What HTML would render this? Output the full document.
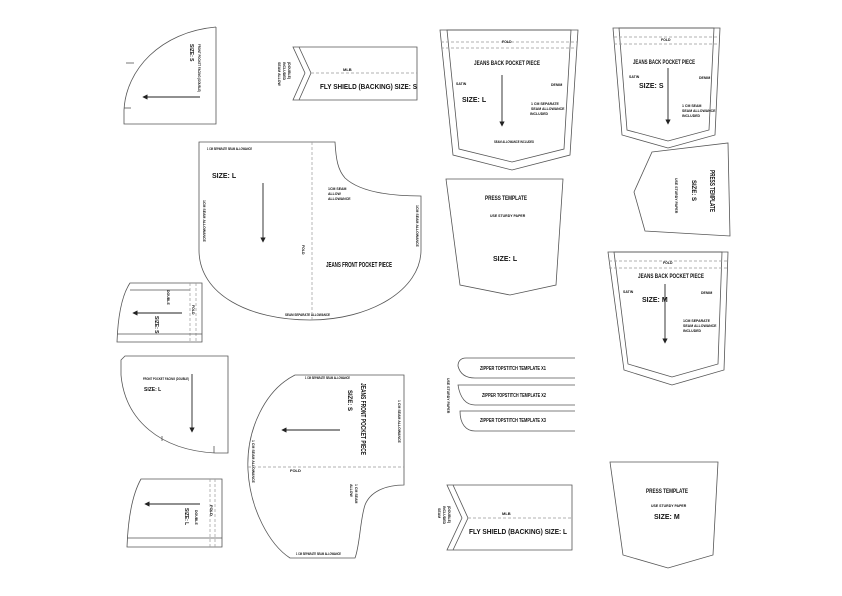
<!DOCTYPE html>
<html><head><meta charset="utf-8"><style>
html,body{margin:0;padding:0;background:#fff;}
svg{display:block}
text{font-family:"Liberation Sans Narrow","Liberation Sans",sans-serif;font-weight:bold;fill:#111}
.p{fill:none;stroke:#555;stroke-width:0.8}
.d{fill:none;stroke:#999;stroke-width:0.7;stroke-dasharray:3,2}
.a{stroke:#222;stroke-width:0.9;fill:none}
</style></head><body>
<svg width="842" height="596" viewBox="0 0 842 596" xmlns="http://www.w3.org/2000/svg">
<defs><marker id="m" markerWidth="6" markerHeight="6" refX="3" refY="3" orient="auto"><path d="M0,0 L6,3 L0,6 Z" fill="#222"/></marker></defs>

<!-- 1 top-left quarter -->
<path class="p" d="M216,27 L216,124 L124,124 L124,110 C126,70 160,32 216,27"/>
<line class="p" x1="126" y1="63" x2="134" y2="63"/><line class="p" x1="124" y1="108" x2="131" y2="108"/>
<line class="a" x1="200" y1="97" x2="145" y2="97" marker-end="url(#m)"/>
<text font-size="5" transform="translate(190,44) rotate(90)">SIZE: S</text>
<text font-size="3.5" transform="translate(198,44) rotate(90)" textLength="48" lengthAdjust="spacingAndGlyphs">FRONT POCKET FACING (DOUBLE)</text>

<!-- 2 flyshield S -->
<path class="p" d="M293,47 L417,47 L417,100 L293,100 L305,73 Z"/>
<path class="p" d="M299,47 L311,73 L299,100"/>
<line class="d" x1="311" y1="73" x2="417" y2="73"/>
<text font-size="4" x="343" y="71">MLB</text>
<text font-size="7.5" x="320" y="89" textLength="97" lengthAdjust="spacingAndGlyphs">FLY SHIELD (BACKING) SIZE: S</text>
<text font-size="3.5" transform="translate(278,62) rotate(90)">SEAM ALLOW</text>
<text font-size="3.5" transform="translate(283,62) rotate(90)">INCLUDED</text>
<text font-size="3.5" transform="translate(288,62) rotate(90)">(DOUBLE)</text>

<!-- 3 front pocket L -->
<path class="p" d="M199,142 L335,142 C336,160 338,170 345,178 C360,192 390,196 421,196 L421,250 C421,290 370,320 310,320 C250,320 199,295 199,250 Z"/>
<line class="d" x1="312" y1="142" x2="312" y2="320"/>
<line class="a" x1="263" y1="183" x2="263" y2="240" marker-end="url(#m)"/>
<text font-size="4" x="207" y="150" textLength="45" lengthAdjust="spacingAndGlyphs">1 CM SEPARATE SEAM ALLOWANCE</text>
<text font-size="7" x="212" y="178">SIZE: L</text>
<text font-size="3.5" x="328" y="190">1CM SEAM</text>
<text font-size="3.5" x="328" y="195">ALLOW</text>
<text font-size="3.5" x="328" y="200">ALLOWANCE</text>
<text font-size="3.5" transform="translate(302,245) rotate(90)">FOLD</text>
<text font-size="7" x="326" y="267" textLength="66" lengthAdjust="spacingAndGlyphs">JEANS FRONT POCKET PIECE</text>
<text font-size="3.5" x="285" y="316" textLength="45" lengthAdjust="spacingAndGlyphs">SEAM SEPARATE ALLOWANCE</text>
<text font-size="3.5" transform="translate(203,200) rotate(90)">1CM SEAM ALLOWANCE</text>
<text font-size="3.5" transform="translate(416,205) rotate(90)">1CM SEAM ALLOWANCE</text>

<!-- 4 small pocket facing -->
<path class="p" d="M130,283 L202,283 L202,342 L117,342 C118,315 122,295 130,283 Z"/>
<line class="p" x1="130" y1="290" x2="190" y2="290"/>
<line class="d" x1="190" y1="283" x2="190" y2="342"/><line class="d" x1="196" y1="283" x2="196" y2="342"/>
<line class="p" x1="117" y1="334" x2="202" y2="334"/>
<line class="a" x1="182" y1="313" x2="135" y2="313" marker-end="url(#m)"/>
<text font-size="5" transform="translate(155,316) rotate(90)">SIZE: S</text>
<text font-size="3.5" transform="translate(167,290) rotate(90)">DOUBLE</text>
<text font-size="3.5" transform="translate(192,305) rotate(90)">FOLD</text>

<!-- 5 front pocket facing L -->
<path class="p" d="M125,356 L228,356 L228,453 L215,453 C160,450 125,420 121,375 L121,360 Z"/>
<line class="p" x1="162" y1="436" x2="162" y2="441"/><line class="p" x1="214" y1="446" x2="214" y2="453"/>
<line class="a" x1="192" y1="374" x2="192" y2="430" marker-end="url(#m)"/>
<text font-size="3.5" x="143" y="380" textLength="46" lengthAdjust="spacingAndGlyphs">FRONT POCKET FACING (DOUBLE)</text>
<text font-size="5" x="144" y="391">SIZE: L</text>

<!-- 6 bottom-left small -->
<path class="p" d="M141,479 L222,479 L222,547 L127,547 C128,520 132,495 141,479 Z"/>
<line class="p" x1="127" y1="538" x2="222" y2="538"/>
<line class="d" x1="210" y1="479" x2="210" y2="547"/><line class="d" x1="215" y1="479" x2="215" y2="547"/>
<line class="a" x1="200" y1="504" x2="147" y2="504" marker-end="url(#m)"/>
<text font-size="5" transform="translate(185,508) rotate(90)">SIZE: L</text>
<text font-size="3.5" transform="translate(195,510) rotate(90)">DOUBLE</text>
<text font-size="4" transform="translate(210,505) rotate(90)">FOLD</text>

<!-- 7 front pocket S -->
<path class="p" d="M295,375 L404,375 L404,485 C385,485 370,492 365,505 C360,520 360,545 355,558 L290,558 C270,545 250,510 248,470 C246,430 265,390 295,375 Z"/>
<line class="d" x1="248" y1="467" x2="404" y2="467"/>
<line class="a" x1="340" y1="430" x2="284" y2="430" marker-end="url(#m)"/>
<text font-size="3.5" x="305" y="379" textLength="45" lengthAdjust="spacingAndGlyphs">1 CM SEPARATE SEAM ALLOWANCE</text>
<text font-size="7" transform="translate(361,383) rotate(90)" textLength="72" lengthAdjust="spacingAndGlyphs">JEANS FRONT POCKET PIECE</text>
<text font-size="6" transform="translate(348,390) rotate(90)">SIZE: S</text>
<text font-size="3.5" transform="translate(398,400) rotate(90)">1 CM SEAM ALLOWANCE</text>
<text font-size="3.5" transform="translate(252,440) rotate(90)">1 CM SEAM ALLOWANCE</text>
<text font-size="4" x="290" y="472">FOLD</text>
<text font-size="3.5" transform="translate(355,484) rotate(90)">1 CM SEAM</text>
<text font-size="3.5" transform="translate(350,484) rotate(90)">ALLOW</text>
<text font-size="3.5" x="296" y="555" textLength="45" lengthAdjust="spacingAndGlyphs">1 CM SEPARATE SEAM ALLOWANCE</text>

<!-- 8 back pocket L -->
<path class="p" d="M440,30 L578,30 L570,155 L512,170 L453,155 Z"/>
<path class="p" d="M447,30 L571,30 L564,149 L512,162 L459,149 Z"/>
<line class="d" x1="441" y1="42" x2="577" y2="42"/><line class="d" x1="441" y1="48" x2="577" y2="48"/>
<text font-size="3.5" x="502" y="43">FOLD</text>
<text font-size="6.5" x="474" y="65" textLength="66" lengthAdjust="spacingAndGlyphs">JEANS BACK POCKET PIECE</text>
<text font-size="3.5" x="456" y="85">SATIN</text><text font-size="3.5" x="551" y="86">DENIM</text>
<text font-size="7" x="462" y="102">SIZE: L</text>
<line class="a" x1="502" y1="75" x2="502" y2="124" marker-end="url(#m)"/>
<text font-size="3.5" x="531" y="105">1 CM SEPARATE</text>
<text font-size="3.5" x="531" y="110">SEAM ALLOWANCE</text>
<text font-size="3.5" x="530" y="115">INCLUDED</text>
<text font-size="3.5" x="494" y="143" textLength="40" lengthAdjust="spacingAndGlyphs">SEAM ALLOWANCE INCLUDED</text>

<!-- 9 press template L -->
<path class="p" d="M446,179 L563,179 L556,285 L510,295 L460,285 Z"/>
<text font-size="6.5" x="485" y="200" textLength="42" lengthAdjust="spacingAndGlyphs">PRESS TEMPLATE</text>
<text font-size="3.5" x="490" y="217">USE STURDY PAPER</text>
<text font-size="7" x="493" y="261">SIZE: L</text>

<!-- 10 back pocket S -->
<path class="p" d="M613,28 L720,28 L715,135 L668,148 L622,135 Z"/>
<path class="p" d="M619,28 L714,28 L709,130 L668,141 L627,130 Z"/>
<line class="d" x1="614" y1="37" x2="719" y2="37"/><line class="d" x1="614" y1="44" x2="719" y2="44"/>
<text font-size="3.5" x="661" y="41">FOLD</text>
<text font-size="6.5" x="633" y="64" textLength="62" lengthAdjust="spacingAndGlyphs">JEANS BACK POCKET PIECE</text>
<text font-size="3.5" x="629" y="78">SATIN</text><text font-size="3.5" x="699" y="79">DENIM</text>
<text font-size="7" x="639" y="88">SIZE: S</text>
<line class="a" x1="668" y1="68" x2="668" y2="122" marker-end="url(#m)"/>
<text font-size="3.5" x="682" y="107">1 CM SEAM</text>
<text font-size="3.5" x="682" y="112">SEAM ALLOWANCE</text>
<text font-size="3.5" x="682" y="117">INCLUDED</text>

<!-- 11 press template S rotated -->
<path class="p" d="M652,152 L728,143 L730,236 L645,231 L634,192 Z"/>
<text font-size="7" transform="translate(710,170) rotate(90)" textLength="42" lengthAdjust="spacingAndGlyphs">PRESS TEMPLATE</text>
<text font-size="6" transform="translate(692,180) rotate(90)">SIZE: S</text>
<text font-size="3.5" transform="translate(675,178) rotate(90)">USE STURDY PAPER</text>

<!-- 12 back pocket M -->
<path class="p" d="M608,252 L728,252 L724,370 L672,385 L624,370 Z"/>
<path class="p" d="M614,252 L722,252 L718,364 L672,377 L628,364 Z"/>
<line class="d" x1="609" y1="261" x2="727" y2="261"/><line class="d" x1="609" y1="268" x2="727" y2="268"/>
<text font-size="3.5" x="663" y="264">FOLD</text>
<text font-size="6.5" x="638" y="278" textLength="66" lengthAdjust="spacingAndGlyphs">JEANS BACK POCKET PIECE</text>
<text font-size="3.5" x="623" y="293">SATIN</text><text font-size="3.5" x="701" y="294">DENIM</text>
<text font-size="7" x="642" y="302">SIZE: M</text>
<line class="a" x1="665" y1="284" x2="665" y2="341" marker-end="url(#m)"/>
<text font-size="3.5" x="683" y="322">1CM SEPARATE</text>
<text font-size="3.5" x="683" y="327">SEAM ALLOWANCE</text>
<text font-size="3.5" x="683" y="332">INCLUDED</text>

<!-- 13 zipper templates -->
<path class="p" d="M575,358 L466,358 C460,358 458,362 458,366 C460,374 466,378 475,378 L575,378"/>
<path class="p" d="M575,385 L458,385 C460,398 466,405 475,405 L575,405"/>
<path class="p" d="M575,411 L460,411 C460,424 466,431 475,431 L575,431"/>
<text font-size="5" x="480" y="370" textLength="66" lengthAdjust="spacingAndGlyphs">ZIPPER TOPSTITCH TEMPLATE X1</text>
<text font-size="5" x="482" y="397" textLength="64" lengthAdjust="spacingAndGlyphs">ZIPPER TOPSTITCH TEMPLATE X2</text>
<text font-size="5" x="480" y="422" textLength="66" lengthAdjust="spacingAndGlyphs">ZIPPER TOPSTITCH TEMPLATE X3</text>
<text font-size="3.5" transform="translate(447,378) rotate(90)">USE STURDY PAPER</text>

<!-- 14 flyshield L -->
<path class="p" d="M447,485 L572,485 L572,550 L447,550 L462,518 Z"/>
<path class="p" d="M453,485 L468,518 L453,550"/>
<line class="d" x1="468" y1="518" x2="572" y2="518"/>
<text font-size="4" x="502" y="515">MLB</text>
<text font-size="7.5" x="469" y="534" textLength="98" lengthAdjust="spacingAndGlyphs">FLY SHIELD (BACKING) SIZE: L</text>
<text font-size="3.5" transform="translate(438,508) rotate(90)">SEAM</text>
<text font-size="3.5" transform="translate(443,506) rotate(90)">INCLUDED</text>
<text font-size="3.5" transform="translate(448,506) rotate(90)">(DOUBLE)</text>

<!-- 15 press template M -->
<path class="p" d="M610,462 L718,462 L713,555 L668,568 L623,555 Z"/>
<text font-size="6.5" x="646" y="493" textLength="42" lengthAdjust="spacingAndGlyphs">PRESS TEMPLATE</text>
<text font-size="3.5" x="651" y="507">USE STURDY PAPER</text>
<text font-size="7" x="654" y="519">SIZE: M</text>
</svg>
</body></html>
